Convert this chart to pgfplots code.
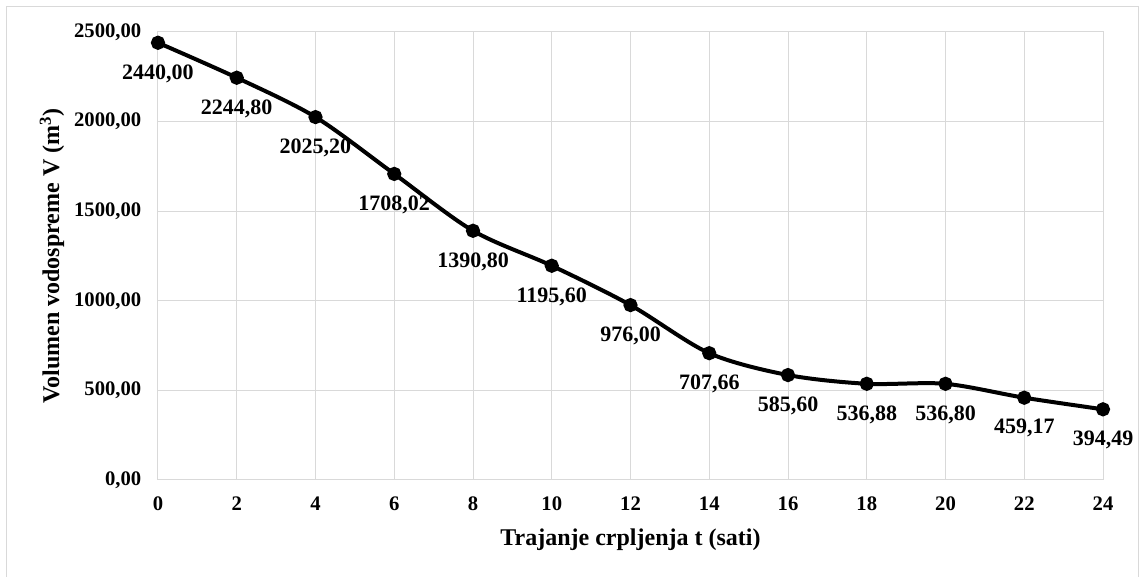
\documentclass[border=0pt]{standalone}
\usepackage{fontspec}
\setmainfont{Liberation Serif}
\usepackage{pgfplots}
\pgfplotsset{compat=1.18}
\definecolor{gridgray}{HTML}{D9D9D9}
\begin{document}
\begin{tikzpicture}
\path[use as bounding box] (-118.5pt,-72.75pt) rectangle (738.75pt,360pt);
\draw[gridgray, line width=0.75pt] (-113.25pt,-80pt) -- (-113.25pt,354.75pt) -- (735pt,354.75pt) -- (735pt,-80pt);
\begin{axis}[
  at={(0,0)}, anchor=south west,
  scale only axis, width=708.75pt, height=336pt,
  xmin=0, xmax=24, ymin=0, ymax=2500,
  xtick={0,2,...,24}, ytick={0,500,...,2500},
  yticklabels={{0,00},{500,00},{1000,00},{1500,00},{2000,00},{2500,00}},
  /pgf/number format/assume math mode=true,
  grid=major, major grid style={gridgray, line width=0.75pt},
  axis line style={gridgray, line width=0.75pt},
  major tick length=0pt,
  tick label style={font=\fontsize{15.5pt}{18pt}\selectfont\bfseries, black},
  yticklabel style={xshift=-9pt},
  xticklabel style={yshift=-9pt},
  xlabel={Trajanje crpljenja t (sati)},
  ylabel={Volumen vodospreme V (m\textsuperscript{3})},
  label style={font=\fontsize{18pt}{21pt}\selectfont\bfseries, black},
  xlabel style={at={(axis description cs:0.5,-0.134)}, anchor=center},
  ylabel style={at={(axis description cs:-0.1122,0.5)}, anchor=center},
  clip=false,
]
\addplot[black, line width=3pt, smooth, mark=*, mark size=3.8pt, mark options={solid},
  nodes near coords, point meta=explicit symbolic,
  every node near coord/.style={font=\fontsize{16.5pt}{19pt}\selectfont\bfseries, anchor=center, yshift=-23pt, black}]
  table[meta=label] {
x y label
0 2440.00 2440,00
2 2244.80 2244,80
4 2025.20 2025,20
6 1708.02 1708,02
8 1390.80 1390,80
10 1195.60 1195,60
12 976.00 976,00
14 707.66 707,66
16 585.60 585,60
18 536.88 536,88
20 536.80 536,80
22 459.17 459,17
24 394.49 394,49
};
\end{axis}
\end{tikzpicture}
\end{document}
